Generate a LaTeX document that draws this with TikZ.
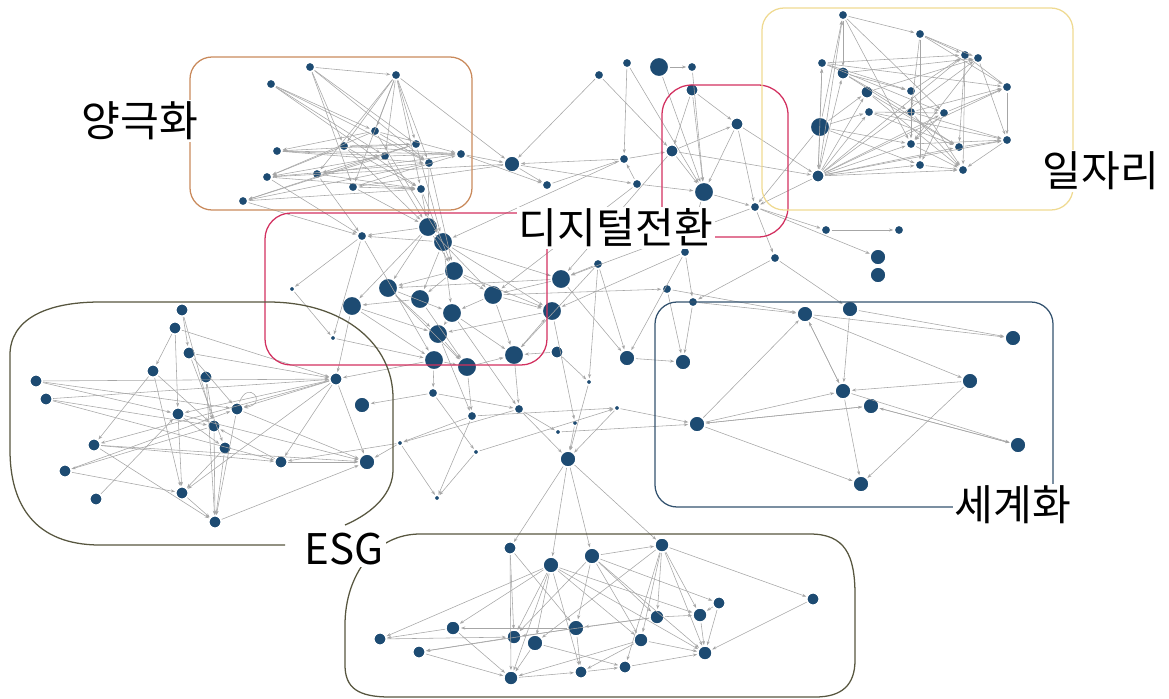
\documentclass[tikz,border=0pt]{standalone}
\usepackage{fontspec}
\newfontfamily\krfont{Noto Sans CJK KR}
\usetikzlibrary{arrows.meta}
\definecolor{dotblue}{HTML}{1D4B72}
\definecolor{polcol}{HTML}{C98A5C}
\definecolor{digcol}{HTML}{D2305F}
\definecolor{jobcol}{HTML}{EFDA92}
\definecolor{glbcol}{HTML}{34536F}
\definecolor{esgcol}{HTML}{57563F}

\begin{document}
\begin{tikzpicture}[x=0.025cm,y=-0.025cm,
    dot/.style={circle,fill=dotblue,draw=white,line width=1.2pt,inner sep=0pt},
    edge/.style={draw=gray!70,line width=0.4pt,-{Stealth[length=3pt,width=2.2pt]}},
    clusterbox/.style={line width=0.9pt,rounded corners=0.55cm},
    cluster/.style={fill=white,inner sep=1.5pt,font=\krfont\fontsize{30}{32}\selectfont}]
    \useasboundingbox (0,0) rectangle (1169,698);

    % network nodes: name/x/y/diameter(mm)
    \foreach \n/\x/\y/\s in {
        p1/310/67/2.2, p2/271/84/2.2, p3/396/75/2.2, p4/375/131/2.2, p5/344/146/2.2,
        p6/416/144/2.2, p7/277/151/2.2, p8/385/156/2.2, p9/461/154/2.2, p10/429/163/2.2,
        p11/267/177/2.2, p12/317/174/2.2, p13/353/187/2.2, p14/421/189/2.2, p15/243/201/2.2,
        p16/512/164/3.6, p17/547/185/2.2,
        d1/428/227/4.4, d2/443/242/4.4, d3/362/236/2.2, d4/454/271/4.4, d5/388/288/4.4,
        d6/420/299/4.4, d7/493/295/4.4, d8/352/306/4.4, d9/452/313/4.4, d10/292/289/1.3,
        d11/438/334/4.4, d12/333/338/1.3, d13/561/279/4.4, d14/552/311/4.4, d15/434/360/4.4,
        d16/467/367/4.4, d17/514/355/4.4, d18/557/352/2.8,
        t1/599/75/2.2, t2/627/63/2.2, t3/659/67/4.4, t4/692/67/2.2, t5/692/90/2.8,
        t6/737/124/2.8, t7/672/151/2.8, t8/624/159/2.2, t9/637/184/2.2, t10/704/192/4.4,
        t11/755/207/2.2,
        j1/843/15/2.2, j2/920/34/2.2, j3/965/55/2.2, j4/978/58/2.2, j5/822/63/2.2,
        j6/843/73/2.8, j7/1007/87/2.2, j8/867/92/2.8, j9/911/91/2.2, j10/869/112/2.2,
        j11/911/112/2.2, j12/944/113/2.2, j13/820/127/4.4, j14/911/144/2.2, j15/959/147/2.2,
        j16/1007/140/2.2, j17/920/165/2.2, j18/963/170/2.2, j19/818/176/2.8,
        m1/826/230/2.2, m2/899/230/2.2, m3/685/252/2.2, m4/598/264/2.2, m5/775/258/2.2,
        m6/878/257/3.6, m7/878/275/3.6, m8/667/289/2.2, m9/693/302/2.2, m10/627/358/3.6,
        m11/683/362/3.6, m12/433/393/2.2, m13/472/416/2.2, m14/519/409/2.2, m15/589/382/1.3,
        m16/617/408/1.3, m17/575/423/1.3, m18/558/432/1.3, m19/400/443/1.3, m20/476/452/1.3,
        m21/568/459/3.6, m22/437/498/1.3,
        g1/805/314/3.6, g2/850/309/3.6, g3/1013/338/3.6, g4/970/381/3.6, g5/843/391/3.6,
        g6/871/406/3.6, g7/697/424/3.6, g8/1018/445/3.6, g9/861/484/3.6,
        e1/182/310/2.8, e2/175/328/2.8, e3/189/353/2.8, e4/153/371/2.8, e5/206/377/2.8,
        e6/36/381/2.8, e7/46/399/2.8, e8/336/379/2.8, e9/362/405/3.6, e10/178/414/2.8,
        e11/237/409/2.8, e12/214/426/2.8, e13/94/445/2.8, e14/225/448/2.8, e15/281/462/2.8,
        e16/367/462/3.6, e17/65/471/2.8, e18/96/499/2.8, e19/182/493/2.8, e20/215/522/2.8,
        b1/510/548/2.8, b2/551/565/3.6, b3/592/556/3.6, b4/662/545/3.2, b5/719/603/2.8,
        b6/813/599/2.8, b7/657/617/3.2, b8/700/615/3.2, b9/453/628/3.2, b10/576/628/3.6,
        b11/380/639/2.8, b12/514/637/3.2, b13/535/643/3.6, b14/641/640/3.2, b15/419/652/2.8,
        b16/705/653/3.2, b17/581/672/2.8, b18/625/667/2.8, b19/511/678/3.2}
        \node[dot,minimum size={1.12*\s mm}] (\n) at (\x,\y) {};

    % links
    \foreach \a/\b in {
        p1/p3, p2/p4, p2/p8, p2/p14, p1/p5, p1/p13, p1/p10, p3/p4, p3/p5, p3/p6, p3/p8,
        p3/p13, p3/p14, p3/p16, p3/p10, p3/p12, p4/p7, p4/p9, p4/p11, p5/p9, p5/p11, p5/p14,
        p6/p7, p6/p12, p6/p15, p7/p9, p7/p10, p8/p11, p8/p15, p9/p12, p10/p11, p10/p15,
        p13/p9, p13/p14, p11/p14, p12/p14, p15/p14, p16/p11, p16/p13, p9/p16, p1/p6, p2/p10,
        p7/p8, p8/p9, p5/p6, p4/p10, p14/d1, p13/d1, p10/d1, p8/d1, p6/d2, p12/d3, p11/d3,
        p5/d1, p4/d2, p14/d4, p10/d4, p9/p17, p16/p17, p17/t8, p16/t9, p15/d3,
        d1/d3, d2/d3, d1/d5, d1/d8, d1/d4, d2/d6, d2/d9, d2/d13, d3/d10, d3/d12, d3/d15,
        d4/d5, d4/d6, d4/d7, d5/d9, d5/d11, d6/d8, d7/d9, d7/d14, d8/d15, d9/d11, d9/d17,
        d11/d16, d10/d12, d13/d7, d13/d5, d14/d11, d15/d16, d16/d17, d17/d14, d18/d17,
        d12/d15, d6/d16, d4/d14, d7/d17, d2/d14, d1/d7, d5/d16, d8/d11,
        d15/e8, d8/e8, d16/m13, d15/m12, d17/m14, d18/m15, d11/m13, d9/m14, d14/m17,
        m4/d13, t8/d2, t7/d13, t9/d7, t10/m3, t11/m5, t11/d13, t11/m6, t11/m1, m1/m2,
        m3/m9, m4/m10, m5/m9, m8/g1, m9/g1, d7/m8, d13/m10, m3/d14, m4/m15, m10/m11,
        m8/m11, m9/m11, m17/m21, m14/m21, m16/m21, m15/m21, m12/m20, m13/m22, m19/m22,
        m20/m22, m19/e16, m12/e9, m13/m19, m14/m19, m16/g7, m18/g7, m21/b1, m21/b3, m21/b4,
        m21/b2, m19/e15, m14/m18, m12/m14, m13/m16, m20/m16, m4/d17, m3/m10, m5/g2,
        t1/t7, t2/t10, t3/t4, t3/t10, t5/t7, t5/t10, t5/t6, t6/t10, t6/t11, t7/t10,
        t8/t7, t9/t10, t7/t6, t8/p16, t9/t8, t6/j19, t10/t11, j19/t11, j13/t11, t7/j19,
        t4/t10, t1/p16, t2/t8,
        j13/j1, j13/j5, j13/j8, j13/j10, j13/j19, j19/j1, j19/j5, j19/j6, j19/j8, j19/j10,
        j19/j14, j19/j17, j19/j18, j19/j16, j19/j4, j19/j12, j19/j15, j1/j2, j1/j6, j1/j12,
        j1/j14, j2/j3, j2/j4, j2/j7, j2/j11, j2/j17, j5/j3, j5/j9, j5/j12, j6/j4, j6/j11,
        j6/j15, j7/j16, j7/j3, j8/j4, j8/j15, j8/j18, j9/j14, j9/j3, j10/j16, j10/j12,
        j11/j18, j11/j16, j12/j17, j12/j7, j14/j18, j15/j16, j17/j18, j3/j15, j4/j16,
        j3/j18, j4/j14, j9/j18, j10/j15, j11/j7, j12/j14, j16/j18, j14/j16, j5/j7, j6/j9,
        j13/j17, j13/j14, j19/j7, j19/j3,
        g1/g5, g5/g1, g7/g1, g1/g3, g2/g3, g1/g4, g2/g5, g4/g5, g4/g9, g5/g9, g7/g5,
        g7/g6, g6/g7, g7/g9, g6/g8, g5/g8, g8/g6,
        e1/e3, e2/e4, e2/e8, e3/e8, e3/e11, e4/e13, e4/e12, e5/e12, e6/e10, e6/e11,
        e7/e12, e7/e15, e8/e10, e8/e11, e8/e13, e8/e19, e8/e16, e8/e15, e10/e14, e10/e19,
        e11/e16, e12/e17, e12/e20, e13/e15, e13/e16, e14/e19, e14/e20, e15/e16, e17/e11,
        e17/e19, e18/e10, e19/e20, e20/e16, e13/e20, e3/e14, e4/e19, e5/e20, e1/e12,
        e6/e8, e7/e8, e11/e20, e15/e12, e2/e10, e10/e16,
        b2/b9, b2/b11, b2/b12, b2/b13, b2/b14, b2/b16, b2/b17, b2/b19, b2/b8, b3/b4,
        b3/b10, b3/b14, b3/b7, b3/b5, b3/b16, b3/b12, b4/b7, b4/b8, b4/b14, b4/b6, b4/b16,
        b4/b18, b4/b13, b1/b12, b1/b19, b1/b10, b5/b8, b5/b16, b6/b16, b7/b10, b7/b8,
        b8/b16, b9/b11, b9/b19, b10/b9, b10/b15, b12/b15, b13/b19, b14/b16, b14/b17,
        b17/b18, b18/b16, b19/b17, b15/b19, b11/b12, b7/b12, b10/b17, b13/b18, b14/b19}
        \draw[edge] (\a) -- (\b);
    \draw[edge] (e11) to[out=70,in=10,looseness=9] (e11);

    % cluster outlines
    \draw[clusterbox,polcol] (190,57) rectangle (472,210);
    \draw[clusterbox,digcol,rounded corners=0.65cm] (265,213) rectangle (547,365);
    \draw[clusterbox,digcol,rounded corners=0.75cm] (662,85) rectangle (788,237);
    \draw[clusterbox,jobcol] (762,8) rectangle (1073,210);
    \draw[clusterbox,glbcol] (655,302) rectangle (1053,507);
    \draw[esgcol,line width=0.9pt] (285,545) -- (100,545) .. controls (35,545) and (10,505) .. (10,450)
        -- (10,355) .. controls (10,320) and (45,302) .. (100,302) -- (268,302)
        .. controls (345,302) and (393,345) .. (393,398) -- (393,470)
        .. controls (393,492) and (375,512) .. (345,525);
    \draw[esgcol,line width=0.9pt] (420,534) .. controls (375,534) and (345,575) .. (345,625)
        -- (345,665) .. controls (345,688) and (358,697) .. (390,697) -- (815,697)
        .. controls (842,697) and (855,685) .. (855,660) -- (855,595)
        .. controls (855,555) and (845,534) .. (810,534) -- cycle;

    % cluster names
    \node[cluster] (polname) at (140,121) {양극화};
    \node[cluster] (digname) at (616,228) {디지털전환};
    \node[cluster] (jobname) at (1101,171) {일자리};
    \node[cluster] (glbname) at (1013,505) {세계화};
    \node[cluster] (esgname) at (344,549) {ESG};
\end{tikzpicture}
\end{document}
